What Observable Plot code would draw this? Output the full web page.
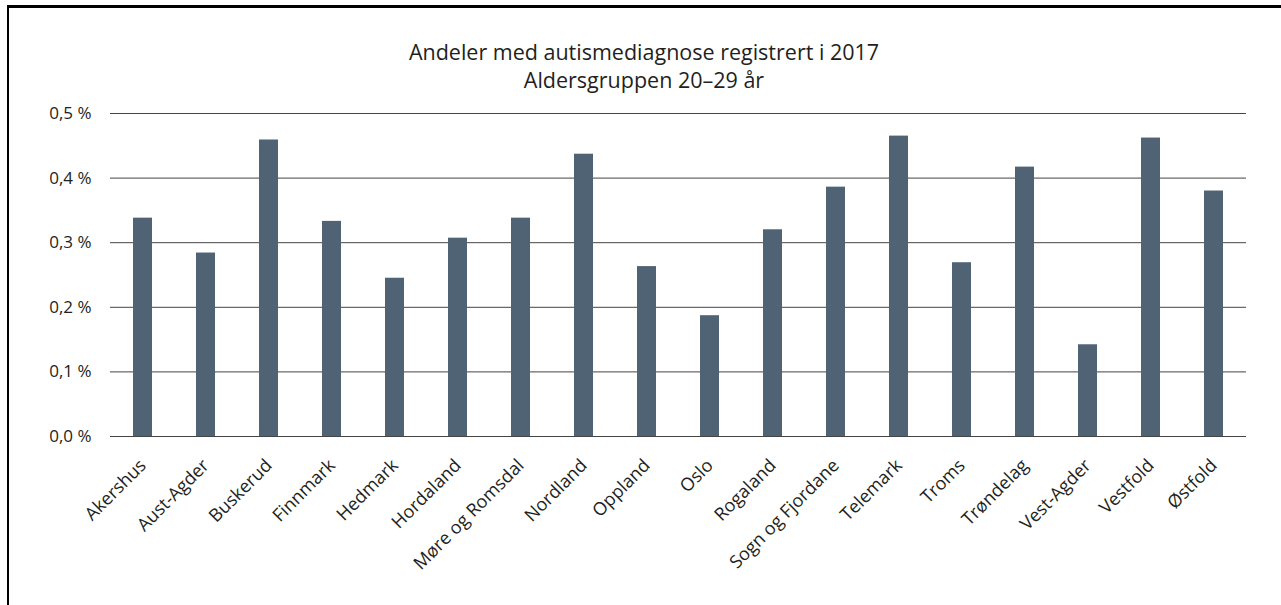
<!DOCTYPE html>
<html>
<head>
<meta charset="utf-8">
<script src="https://cdn.jsdelivr.net/npm/d3@7"></script>
<script src="https://cdn.jsdelivr.net/npm/@observablehq/plot@0.6"></script>
<style>
  html, body { margin: 0; padding: 0; background: #fff; overflow: hidden; }
  #page { position: relative; width: 1281px; height: 605px; font-family: "Open Sans", sans-serif; }
  #title { position: absolute; left: 7px; right: 0; top: 38px; text-align: center; font-size: 21.5px; line-height: 28px; color: #231f20; }
  #chart { position: absolute; left: 0; top: 95px; }
  #chart svg { background: transparent; }
  #frame { position: absolute; left: 7px; top: 5px; right: -10px; bottom: -10px; border-top: 3px solid #000; border-left: 2px solid #000; pointer-events: none; z-index: 2; }
</style>
</head>
<body>
<div id="page">
  <div id="title">Andeler med autismediagnose registrert i 2017<br>Aldersgruppen 20–29 år</div>
  <div id="chart"></div>
  <div id="frame"></div>
</div>
<script>
const counties = ["Akershus","Aust-Agder","Buskerud","Finnmark","Hedmark","Hordaland","Møre og Romsdal","Nordland","Oppland","Oslo","Rogaland","Sogn og Fjordane","Telemark","Troms","Trøndelag","Vest-Agder","Vestfold","Østfold"];
const shares = [0.338,0.284,0.459,0.333,0.245,0.307,0.338,0.437,0.263,0.187,0.320,0.386,0.465,0.269,0.417,0.142,0.462,0.380];
const yTicks = [0, 0.1, 0.2, 0.3, 0.4, 0.5];

const data = counties.map((c, i) => ({county: c, value: shares[i]}));

const chart = Plot.plot({
  width: 1281,
  height: 510,
  marginLeft: 110,
  marginRight: 35,
  marginTop: 18,
  marginBottom: 169,
  style: {fontFamily: "'Open Sans', sans-serif", fontSize: "16px", color: "#231f20", background: "transparent"},
  x: {domain: counties, paddingInner: 0.7, paddingOuter: 0.35, label: null},
  y: {domain: [0, 0.5], label: null},
  marks: [
    Plot.ruleY(yTicks, {stroke: "#444", strokeWidth: 1}),
    Plot.barY(data, {x: "county", y: "value", fill: "#4f6375"}),
    Plot.axisY({ticks: yTicks, tickSize: 0, tickPadding: 19, tickFormat: d => d.toFixed(1).replace(".", ",") + " %", fontSize: 17, fill: "#231f20"}),
    Plot.axisX({tickSize: 0, tickPadding: 26, tickRotate: -45, fontSize: 18, fill: "#231f20"})
  ]
});
document.getElementById("chart").appendChild(chart);
</script>
</body>
</html>
